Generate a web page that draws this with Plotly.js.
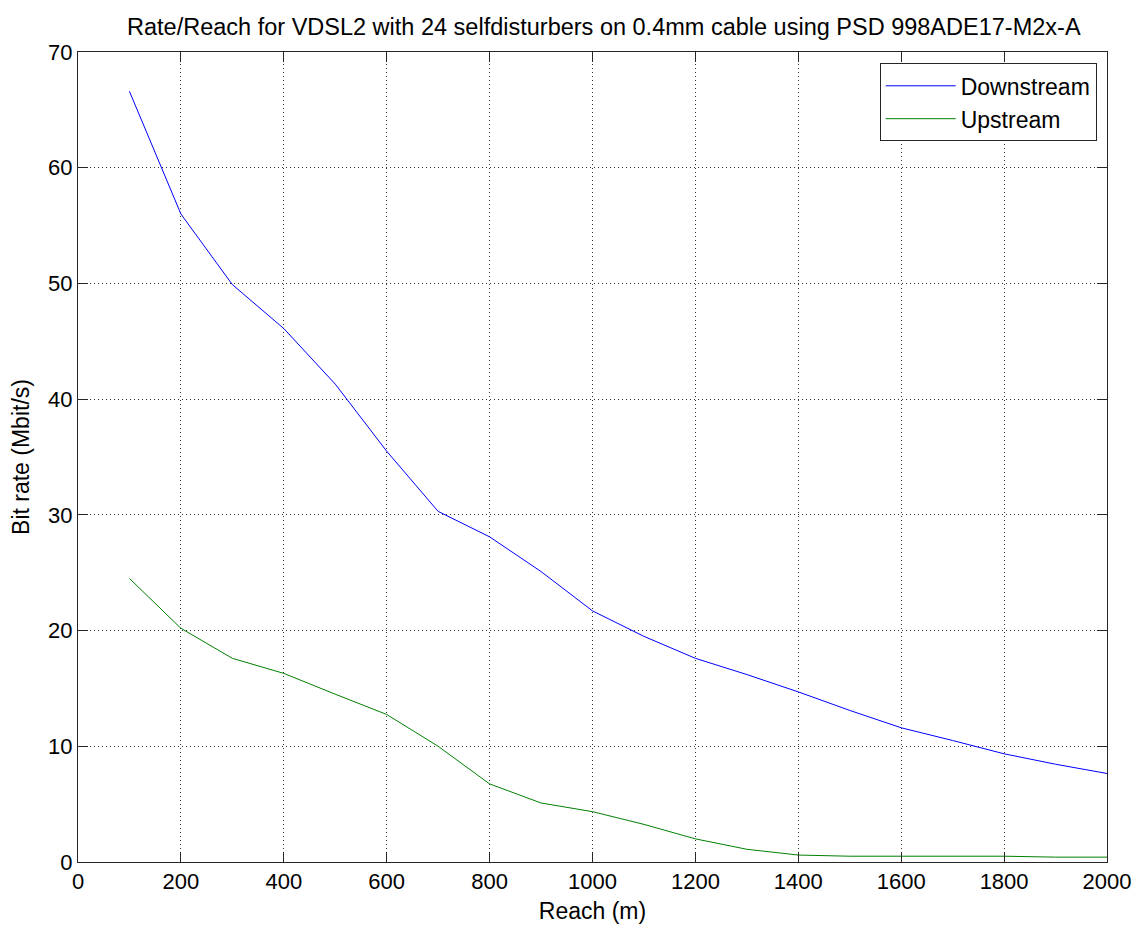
<!DOCTYPE html>
<html>
<head>
<meta charset="utf-8">
<script src="https://cdn.plot.ly/plotly-3.0.1.min.js"></script>
<style>html,body{margin:0;padding:0;background:#fff;}#chart{width:1137px;height:928px;}</style>
</head>
<body>
<div id="chart"></div>
<script>
const reach = [100,200,300,400,500,600,700,800,900,1000,1100,1200,1300,1400,1500,1600,1700,1800,1900,2000];
const downstream = [66.6,56.0,49.9,46.1,41.3,35.5,30.3,28.1,25.1,21.7,19.5,17.6,16.2,14.7,13.1,11.6,10.5,9.35,8.45,7.65];
const upstream = [24.5,20.2,17.6,16.3,14.5,12.75,10.0,6.75,5.1,4.35,3.25,2.0,1.1,0.6,0.5,0.5,0.5,0.5,0.42,0.42];
const xTicks = [0,200,400,600,800,1000,1200,1400,1600,1800,2000];
const yTicks = [0,10,20,30,40,50,60,70];
const titleText = 'Rate/Reach for VDSL2 with 24 selfdisturbers on 0.4mm cable using PSD 998ADE17-M2x-A';

const FONT = 'Liberation Sans, Arial, Helvetica, sans-serif';
const traces = [
  {x: reach, y: downstream, type: 'scatter', mode: 'lines', name: 'Downstream', line: {color: '#0000ff', width: 1}},
  {x: reach, y: upstream, type: 'scatter', mode: 'lines', name: 'Upstream', line: {color: '#008000', width: 1}}
];
const axisCommon = {
  showline: true, linecolor: '#262626', linewidth: 1, mirror: 'ticks',
  ticks: 'inside', ticklen: 10, tickcolor: '#262626', tickwidth: 1,
  showgrid: true, gridcolor: '#333333', griddash: '1px,3px', gridwidth: 1,
  zeroline: false, tickfont: {family: FONT, size: 22, color: '#000'}
};
const layout = {
  width: 1137, height: 928,
  margin: {l: 78, r: 30, t: 52, b: 66},
  paper_bgcolor: '#fff', plot_bgcolor: '#fff',
  title: {text: titleText, font: {family: FONT, size: 23.5, color: '#000'}, xref: 'paper', x: 0.511, xanchor: 'center', y: 0.971, yanchor: 'middle'},
  xaxis: Object.assign({}, axisCommon, {range: [0, 2000], tickvals: xTicks, ticktext: xTicks.map(String),
    title: {text: 'Reach (m)', font: {family: FONT, size: 23, color: '#000'}, standoff: 9}}),
  yaxis: Object.assign({}, axisCommon, {range: [0, 70], tickvals: yTicks, ticktext: yTicks.map(String),
    title: {text: 'Bit rate (Mbit/s)', font: {family: FONT, size: 23, color: '#000'}, standoff: 12}}),
  showlegend: true,
  legend: {x: 0.99, xanchor: 'right', y: 0.986, yanchor: 'top', bgcolor: '#fff', bordercolor: '#262626', borderwidth: 1,
    font: {family: FONT, size: 23, color: '#000'}, itemwidth: 70, tracegroupgap: 0}
};
Plotly.newPlot('chart', traces, layout, {displayModeBar: false, staticPlot: true});
</script>
</body>
</html>
